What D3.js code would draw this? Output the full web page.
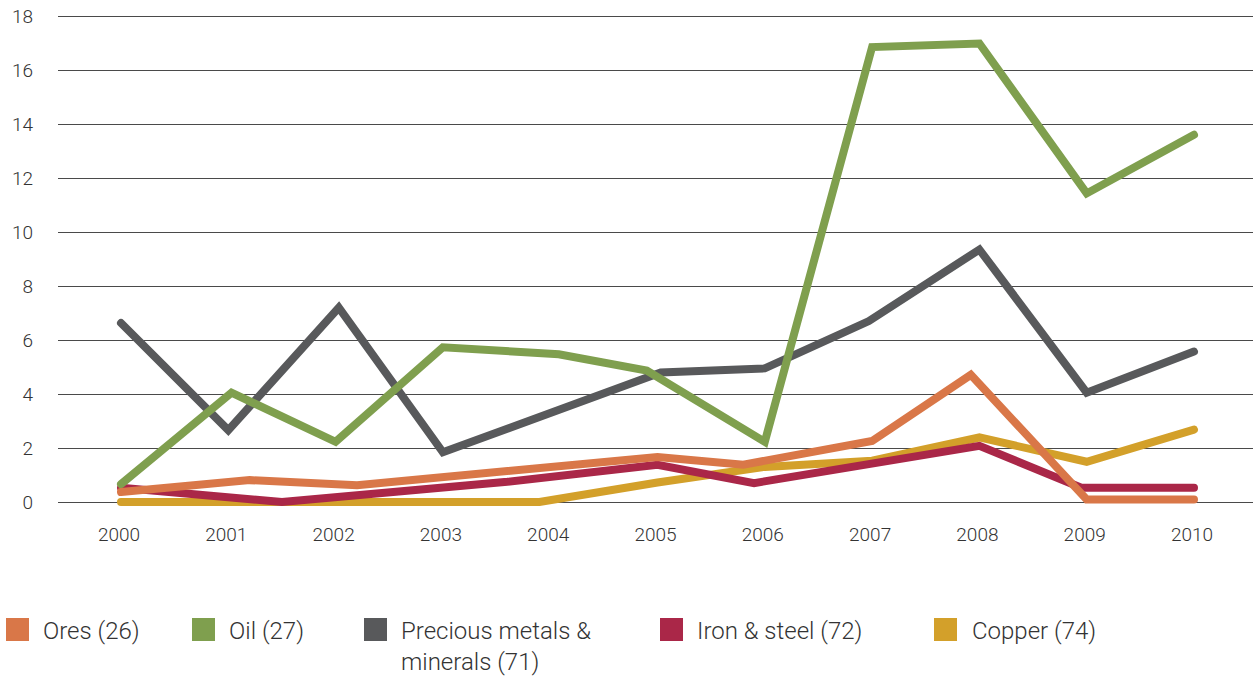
<!DOCTYPE html>
<html>
<head>
<meta charset="utf-8">
<script src="https://cdn.jsdelivr.net/npm/d3@7/dist/d3.min.js"></script>
<style>
  html, body { margin: 0; padding: 0; background: #fff; }
  svg { display: block; }
  text { font-family: Roboto, "Open Sans", sans-serif; font-weight: 300; fill: #333; }
</style>
</head>
<body>
<svg id="chart" width="1253" height="676"></svg>
<script>
// ---- data ----
const years = [2000, 2001, 2002, 2003, 2004, 2005, 2006, 2007, 2008, 2009, 2010];
const yTicks = [0, 2, 4, 6, 8, 10, 12, 14, 16, 18];

const oresX = [2000, 2001.2, 2002.2, 2005, 2005.8, 2007, 2007.92, 2009, 2010];
const oresY = [0.37, 0.81, 0.62, 1.67, 1.38, 2.26, 4.71, 0.09, 0.09];

const oilX = [2000, 2001.03, 2002, 2003, 2004.08, 2004.9, 2006, 2007, 2008, 2009, 2010];
const oilY = [0.66, 4.05, 2.23, 5.73, 5.47, 4.87, 2.23, 16.85, 16.98, 11.43, 13.6];

const preciousX = [2000, 2001, 2002.03, 2003, 2005.03, 2006, 2006.97, 2008, 2009, 2010];
const preciousY = [6.63, 2.66, 7.2, 1.84, 4.8, 4.95, 6.7, 9.35, 4.05, 5.57];

const ironX = [2000, 2001.5, 2003.6, 2005, 2005.9, 2008, 2008.95, 2010];
const ironY = [0.53, 0.0, 0.75, 1.38, 0.7, 2.08, 0.53, 0.53];

const copperX = [2000, 2003.9, 2005, 2006, 2007, 2008, 2009, 2010];
const copperY = [0, 0, 0.72, 1.3, 1.53, 2.39, 1.49, 2.68];

const seriesNames = ["Ores (26)", "Oil (27)", "Precious metals &\nminerals (71)", "Iron & steel (72)", "Copper (74)"];
const seriesColors = ["#d97748", "#7f9f4e", "#58595b", "#aa2748", "#d3a02a"];

// ---- chart ----
const svg = d3.select("#chart");
const x = d3.scaleLinear().domain([2000, 2010]).range([121, 1194]);
const y = d3.scaleLinear().domain([0, 18]).range([502, 16]);

// gridlines
svg.append("g").selectAll("line").data(yTicks).join("line")
  .attr("x1", 58).attr("x2", 1253)
  .attr("y1", d => Math.round(y(d)) + 0.5).attr("y2", d => Math.round(y(d)) + 0.5)
  .attr("stroke", "#4a4a4a").attr("stroke-width", 1);

// y labels
svg.append("g").selectAll("text").data(yTicks).join("text")
  .attr("x", 33).attr("y", d => y(d))
  .attr("dy", "0.36em")
  .attr("text-anchor", "end")
  .attr("font-size", 19)
  .text(d => d);

// x labels
svg.append("g").selectAll("text").data(years).join("text")
  .attr("x", d => x(d) - 2).attr("y", 541)
  .attr("text-anchor", "middle")
  .attr("font-size", 19)
  .text(d => d);

const series = [
  { xs: oresX, ys: oresY, c: 0 },
  { xs: oilX, ys: oilY, c: 1 },
  { xs: preciousX, ys: preciousY, c: 2 },
  { xs: ironX, ys: ironY, c: 3 },
  { xs: copperX, ys: copperY, c: 4 }
];
const drawOrder = [4, 3, 2, 1, 0];

const line = d3.line().x(d => x(d[0])).y(d => y(d[1]));
svg.append("g").selectAll("path").data(drawOrder.map(i => series[i])).join("path")
  .attr("d", s => line(s.xs.map((v, k) => [v, s.ys[k]])))
  .attr("fill", "none")
  .attr("stroke", s => seriesColors[s.c])
  .attr("stroke-width", 8)
  .attr("stroke-linecap", "round")
  .attr("stroke-linejoin", "miter");

// legend
const legendSwatchX = [6, 192, 364, 660, 934];
const legendTextX = [43, 229, 401, 697, 972];
const lg = svg.append("g");
seriesNames.forEach((name, i) => {
  lg.append("rect")
    .attr("x", legendSwatchX[i]).attr("y", 618)
    .attr("width", 23).attr("height", 23)
    .attr("fill", seriesColors[i]);
  const t = lg.append("text")
    .attr("x", legendTextX[i]).attr("y", 639)
    .attr("font-size", 24);
  name.split("\n").forEach((part, j) => {
    t.append("tspan").attr("x", legendTextX[i]).attr("dy", j === 0 ? 0 : 31).text(part);
  });
});
</script>
</body>
</html>
